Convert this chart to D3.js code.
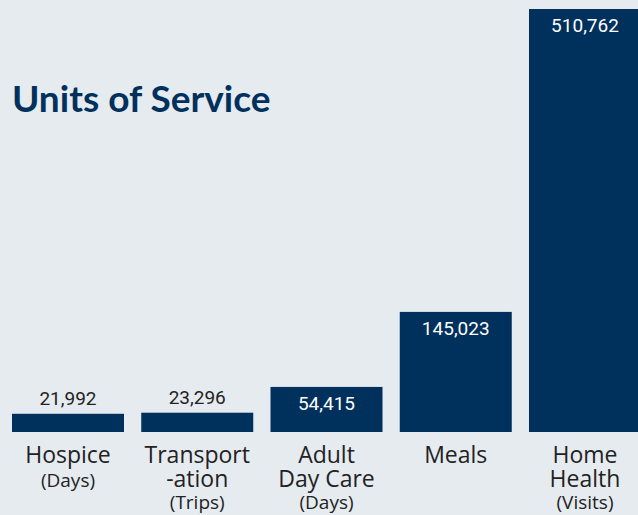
<!DOCTYPE html>
<html>
<head>
<meta charset="utf-8">
<script src="https://cdn.jsdelivr.net/npm/d3@7"></script>
<style>
  html, body { margin: 0; padding: 0; background: #e6ebf0; }
  #chart { width: 638px; height: 515px; overflow: hidden; }
</style>
</head>
<body>
<div id="chart"></div>
<script>
// chart data
var categories = ["Hospice", "Transportation", "Adult Day Care", "Meals", "Home Health"];
var values = [21992, 23296, 54415, 145023, 510762];
var labelLines = [
  ["Hospice", "(Days)"],
  ["Transport", "-ation", "(Trips)"],
  ["Adult", "Day Care", "(Days)"],
  ["Meals"],
  ["Home", "Health", "(Visits)"]
];
var title = "Units of Service";

var width = 638, height = 515;
var baseline = 432;
var navy = "#00305c";

var svg = d3.select("#chart")
  .append("svg")
    .attr("width", width)
    .attr("height", height);

svg.append("rect")
  .attr("width", width)
  .attr("height", height)
  .attr("fill", "#e6ebf0");

var data = categories.map(function(c, i) {
  return {name: c, value: values[i], lines: labelLines[i]};
});

// x: one band per service
var x = d3.scaleBand()
  .domain(categories)
  .range([12, 641])
  .paddingInner(0.1335)
  .paddingOuter(0);

// y: linear from baseline up
var y = d3.scaleLinear()
  .domain([0, d3.max(values)])
  .range([baseline, 9]);

// bars
svg.selectAll("rect.bar")
  .data(data)
  .enter()
  .append("rect")
    .attr("class", "bar")
    .attr("x", function(d) { return x(d.name); })
    .attr("y", function(d) { return y(d.value); })
    .attr("width", x.bandwidth())
    .attr("height", function(d) { return baseline - y(d.value); })
    .attr("fill", navy);

// value labels: above short bars, inside tall ones
var fmt = d3.format(",");
svg.selectAll("text.value")
  .data(data)
  .enter()
  .append("text")
    .attr("class", "value")
    .attr("x", function(d) { return x(d.name) + x.bandwidth() / 2; })
    .attr("y", function(d) {
      var h = baseline - y(d.value);
      return h < 30 ? y(d.value) - 9 : y(d.value) + 23;
    })
    .attr("text-anchor", "middle")
    .style("font-family", "Roboto, sans-serif")
    .style("font-size", "19px")
    .attr("fill", function(d) { return (baseline - y(d.value)) < 30 ? "#222" : "#fff"; })
    .text(function(d) { return fmt(d.value); });

// category labels below baseline
var lineY = [463, 487, 509];
var cat = svg.selectAll("text.cat")
  .data(data)
  .enter()
  .append("text")
    .attr("class", "cat")
    .attr("text-anchor", "middle")
    .attr("fill", "#222")
    .style("font-family", "'Open Sans', sans-serif");

cat.selectAll("tspan")
  .data(function(d) {
    var cx = x(d.name) + x.bandwidth() / 2;
    return d.lines.map(function(l, i) { return {text: l, cx: cx, i: i}; });
  })
  .enter()
  .append("tspan")
    .attr("x", function(d) { return d.cx; })
    .attr("y", function(d) { return lineY[d.i]; })
    .style("font-size", function(d) { return d.text.charAt(0) === "(" ? "19px" : "23px"; })
    .text(function(d) { return d.text; });

// title
svg.append("text")
  .attr("x", 12)
  .attr("y", 112)
  .attr("fill", navy)
  .style("font-family", "Lato, sans-serif")
  .style("font-weight", "bold")
  .style("font-size", "37px")
  .text(title);
</script>
</body>
</html>
